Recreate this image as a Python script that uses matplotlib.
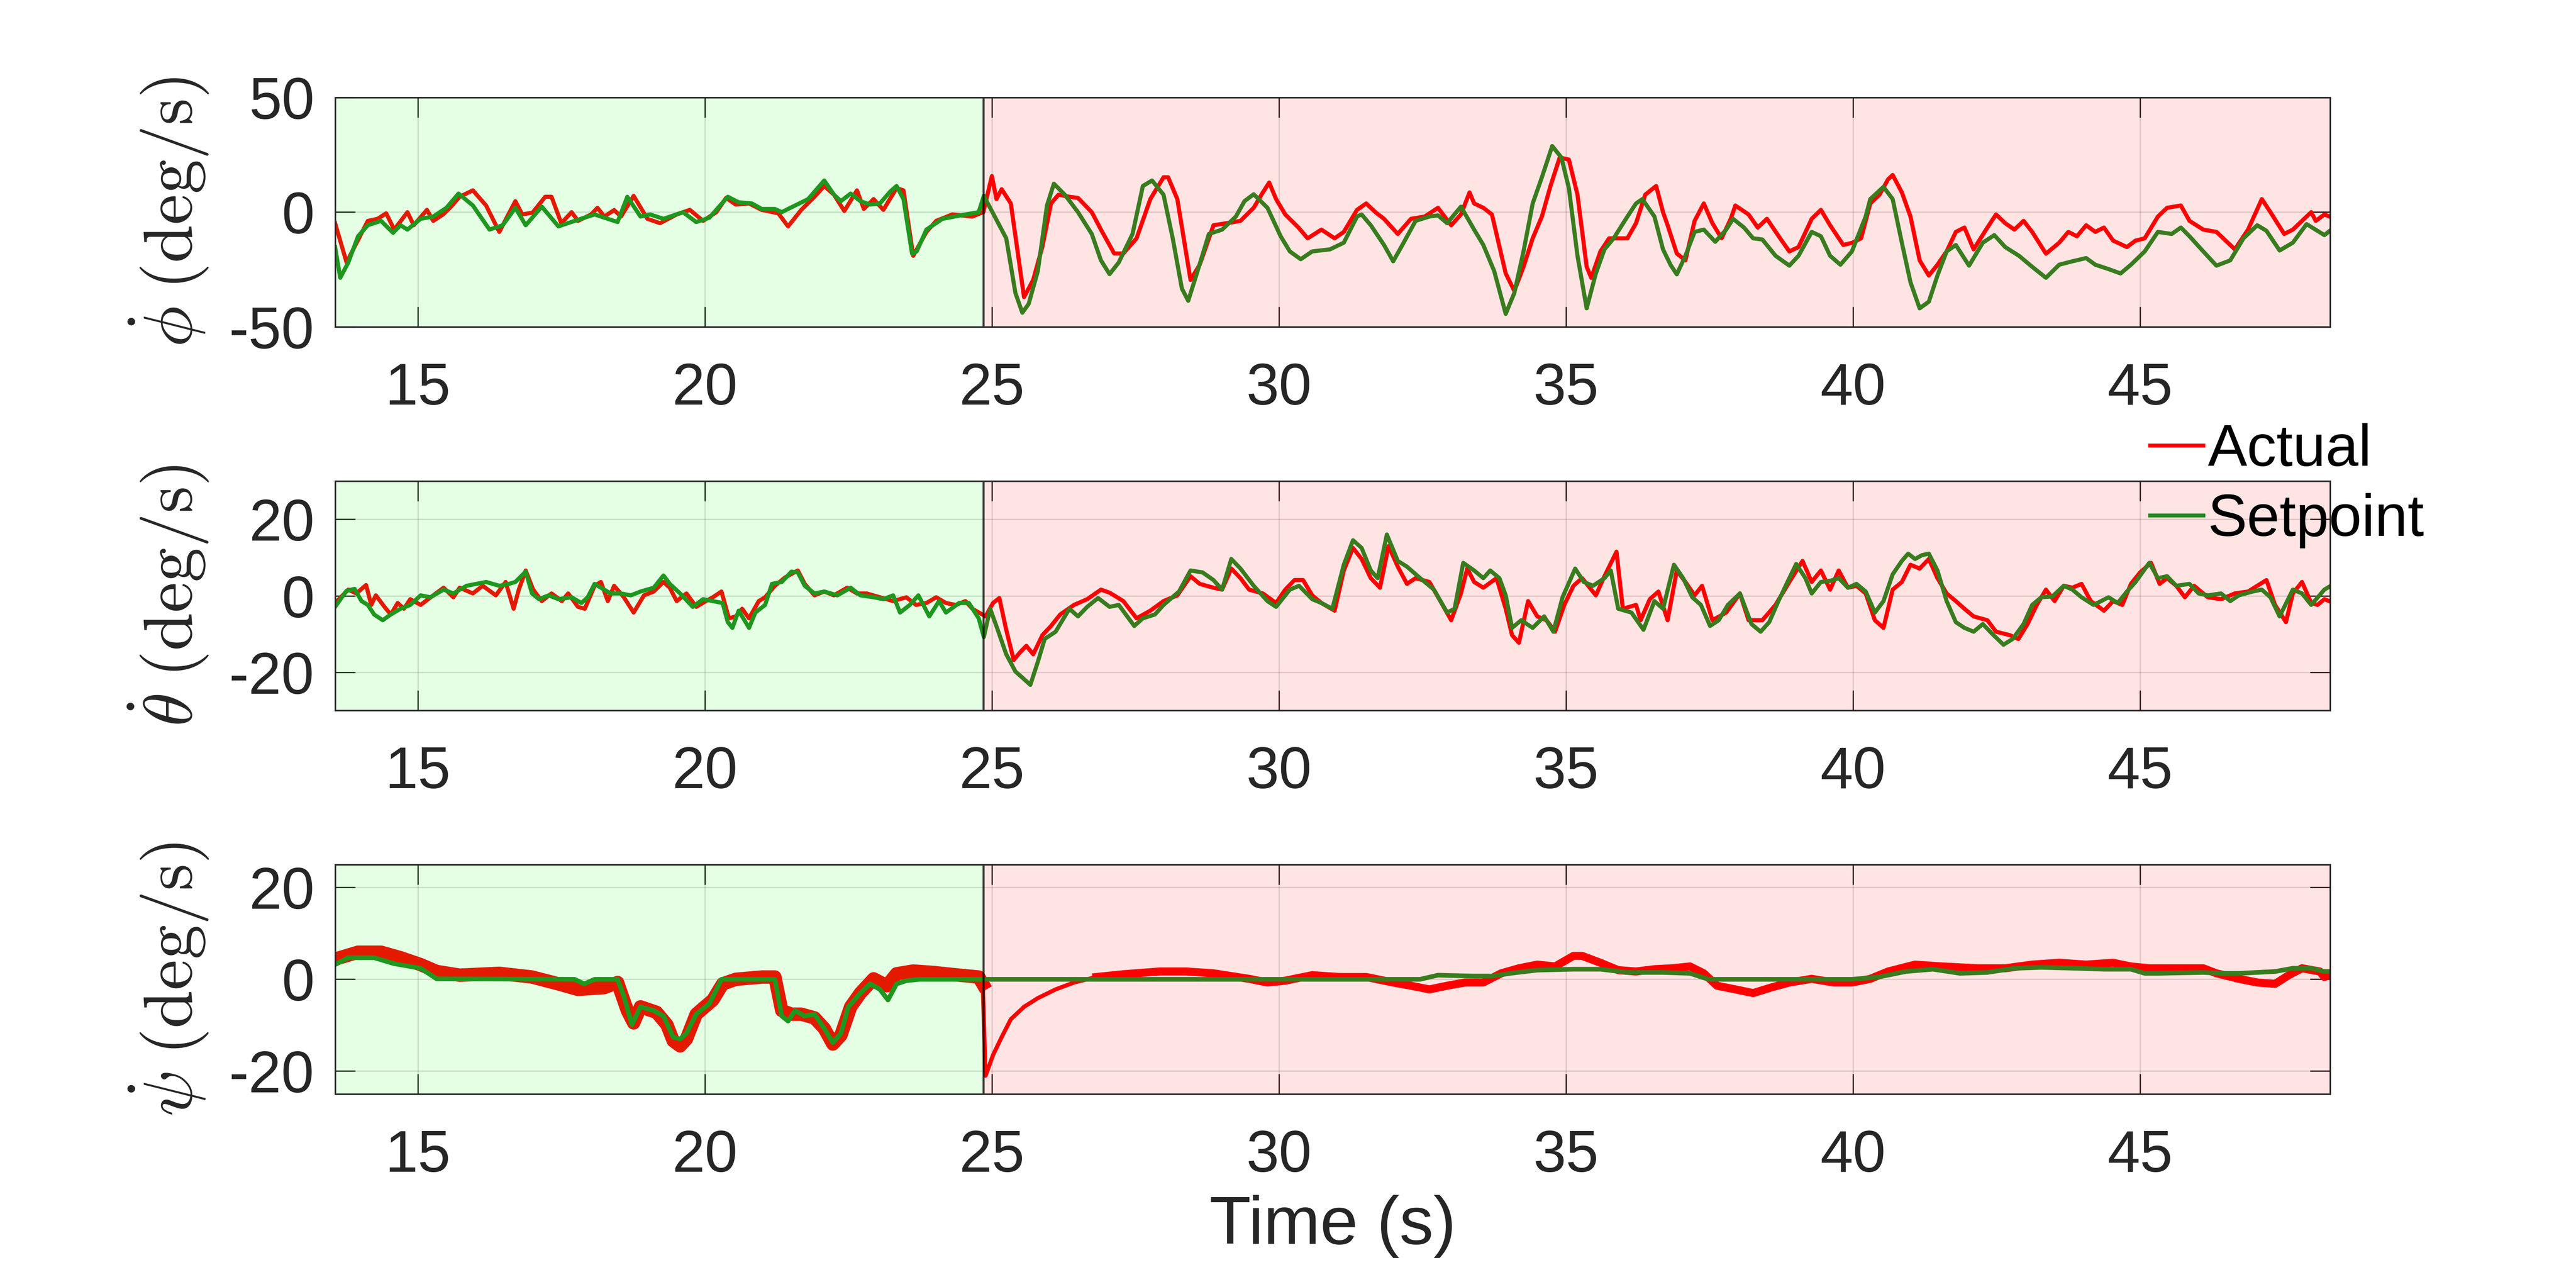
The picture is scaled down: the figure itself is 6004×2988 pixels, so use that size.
import numpy as np
import matplotlib
matplotlib.use("Agg")
import matplotlib.pyplot as plt
from matplotlib.lines import Line2D

plt.rcParams['font.family'] = ['Liberation Sans', 'DejaVu Sans']
plt.rcParams['mathtext.fontset'] = 'cm'
plt.rcParams['axes.unicode_minus'] = False

# time window and the moment the controller switched (green -> red zone)
x_lim = (13.56, 48.31)
t_switch = 24.855
x_ticks = [15, 20, 25, 30, 35, 40, 45]

# (time, value) pairs
roll_actual = [
    (13.56, -4.8), (13.76, -21.9), (14.13, -3.8), (14.3, -2.9), (14.45, -0.5), (14.59, -7.6),
    (14.82, 0), (14.93, -5.7), (15.16, 1), (15.27, -3.8), (15.44, -1.0), (15.56, 1.9),
    (15.73, 6.7), (15.96, 9.5), (16.19, 2.9), (16.42, -8.6), (16.7, 4.8), (16.82, -1),
    (17.0, -0.2), (17.22, 6.7), (17.33, 6.7), (17.5, -4.8), (17.68, 0), (17.79, -3.8),
    (18.02, -1), (18.13, 1.9), (18.25, -1.9), (18.42, 0.9), (18.54, -1.9), (18.76, 7.1),
    (19.0, -2.9), (19.22, -4.8), (19.51, -1), (19.74, 1), (19.97, -3.8), (20.2, 0),
    (20.37, 6.2), (20.54, 3.3), (20.77, 3.8), (20.99, 1), (21.28, -0.5), (21.45, -6.2),
    (21.68, 1), (21.91, 6.7), (22.08, 11.4), (22.25, 7.6), (22.43, 0.5), (22.65, 9.5),
    (22.77, 1.4), (22.94, 5.7), (23.11, 1), (23.34, 10.5), (23.46, 9.5), (23.63, -19),
    (23.86, -8.6), (24.03, -3.8), (24.31, -1), (24.66, -1.9), (24.85, 0), (25.0, 15.7),
    (25.08, 5.7), (25.17, 10), (25.33, 3.8), (25.56, -37), (25.72, -29.5), (25.88, -15),
    (26.03, 3.8), (26.16, 7.6), (26.35, 6.7), (26.5, 6.2), (26.74, 0), (26.9, -7.6),
    (27.13, -18), (27.29, -18), (27.52, -11.4), (27.76, 5.7), (27.99, 15.2), (28.07, 15.2),
    (28.23, 5.7), (28.46, -29.5), (28.62, -22.9), (28.86, -5.7), (29.09, -4.8), (29.33, -3.8),
    (29.56, 1.9), (29.72, 8.6), (29.83, 12.9), (29.95, 5.7), (30.11, -1), (30.34, -6.7),
    (30.5, -11.4), (30.74, -7.6), (30.97, -11.4), (31.13, -8.6), (31.36, 1), (31.52, 3.8),
    (31.68, 0), (31.83, -2.9), (32.07, -9.5), (32.3, -2.9), (32.54, -1.9), (32.77, 1.9),
    (33.0, -5.7), (33.17, -1), (33.32, 8.6), (33.4, 3.8), (33.56, 1.9), (33.71, -1),
    (33.95, -26.7), (34.1, -34.3), (34.26, -23.8), (34.42, -11.4), (34.58, -1.9), (34.73, 11.4),
    (34.89, 23.8), (35.05, 22.9), (35.2, 7.6), (35.36, -23.8), (35.44, -28.6), (35.6, -17.1),
    (35.75, -11.4), (36.07, -11.4), (36.22, -4.8), (36.38, 7.6), (36.57, 11.4), (36.69, 0),
    (36.77, -5.7), (36.93, -18), (37.08, -21), (37.24, -3.8), (37.4, 3.8), (37.55, -4.8),
    (37.71, -11.4), (37.87, -2.9), (37.95, 2.9), (38.18, -1), (38.34, -6.7), (38.5, -2.9),
    (38.73, -11.4), (38.89, -17.1), (39.05, -15.2), (39.28, -2.9), (39.44, 1), (39.6, -5.7),
    (39.83, -14.3), (39.99, -13.3), (40.14, -11.4), (40.3, 3.8), (40.46, 7.6), (40.61, 14.3),
    (40.69, 16.2), (40.85, 8.6), (41.0, -1.9), (41.16, -21), (41.32, -27.6), (41.47, -22.9),
    (41.63, -17.1), (41.79, -8.6), (41.94, -6.7), (42.1, -16.2), (42.34, -6.7), (42.49, -1),
    (42.65, -4.8), (42.81, -7.6), (42.97, -3.8), (43.12, -8.6), (43.36, -18.1), (43.59, -13.3),
    (43.75, -8.6), (43.9, -10.5), (44.06, -5.7), (44.22, -8.6), (44.37, -6.7), (44.53, -12.4),
    (44.77, -15.2), (44.92, -12.4), (45.08, -11.4), (45.31, -1.9), (45.47, 1.9), (45.71, 2.9),
    (45.86, -3.8), (46.1, -7.6), (46.33, -8.6), (46.65, -16.2), (46.88, -7.6), (47.12, 5.7),
    (47.27, 0), (47.51, -9.5), (47.66, -7.6), (47.82, -3.8), (47.98, 0), (48.06, -3.8),
    (48.21, -1), (48.31, -2),
]

roll_setpoint = [
    (13.56, -15.2), (13.65, -28.6), (13.79, -21.9), (13.96, -10.5), (14.13, -5.7), (14.36, -3.8),
    (14.57, -9), (14.7, -5.7), (14.82, -7.6), (15.05, -2.9), (15.27, -1.9), (15.5, 1.9),
    (15.71, 8.1), (15.96, 2.9), (16.25, -7.6), (16.48, -5.7), (16.7, 1.9), (16.88, -5.7),
    (17.16, 2.4), (17.45, -6.2), (17.79, -3.3), (18.08, -1), (18.31, -2.9), (18.48, -4.3),
    (18.65, 6.7), (18.88, -1.9), (19.05, -1), (19.28, -2.9), (19.62, 0), (19.85, -4.3),
    (20.08, -2.4), (20.4, 6.7), (20.59, 4.3), (20.82, 3.8), (20.99, 1.4), (21.22, 1.4),
    (21.34, 0), (21.45, 1.4), (21.8, 5.7), (22.08, 13.8), (22.25, 7.6), (22.37, 4.8),
    (22.54, 8.1), (22.71, 4.8), (22.88, 3.3), (23.05, 3.8), (23.23, 9), (23.34, 11.4),
    (23.46, 5.7), (23.61, -18.1), (23.69, -17.1), (23.86, -7.6), (24.14, -2.9), (24.54, -1),
    (24.77, 0), (24.86, 7.1), (25.09, -3.8), (25.25, -11.4), (25.41, -35.2), (25.53, -43.8),
    (25.64, -40), (25.8, -25.7), (25.96, 2.9), (26.08, 12.4), (26.27, 7.6), (26.5, 0),
    (26.74, -9.5), (26.9, -21), (27.05, -27), (27.21, -21.9), (27.45, -9.5), (27.63, 11.4),
    (27.79, 13.8), (27.99, 7.6), (28.15, -11.4), (28.31, -33.3), (28.42, -38.6), (28.57, -26.7),
    (28.78, -9.5), (29.01, -7.6), (29.25, -1.9), (29.4, 4.8), (29.56, 7.8), (29.8, 1.9),
    (30.03, -10.5), (30.19, -17.1), (30.38, -20.5), (30.58, -17.1), (30.89, -16.2), (31.13, -13.3),
    (31.36, -1.9), (31.44, -1.0), (31.6, -5.7), (31.83, -14.3), (31.99, -21.4), (32.15, -14.3),
    (32.38, -3.8), (32.62, -1.9), (32.77, -1.4), (32.93, -4.8), (33.17, 2.4), (33.4, -7.6),
    (33.56, -14.3), (33.75, -25.7), (33.95, -44.3), (34.1, -35.2), (34.26, -17.1), (34.42, 3.8),
    (34.58, 15.2), (34.76, 28.8), (34.92, 23.8), (35.05, 10.5), (35.2, -19), (35.36, -41.9),
    (35.52, -26.7), (35.67, -16.2), (35.83, -11.4), (36.07, -1.9), (36.22, 3.8), (36.33, 5.7),
    (36.54, -1.9), (36.69, -16.2), (36.82, -22.9), (36.93, -27.1), (37.08, -19), (37.24, -8.6),
    (37.4, -7.6), (37.6, -12.9), (37.79, -7.6), (37.91, -2.9), (38.1, -6.7), (38.26, -11.4),
    (38.42, -11.9), (38.65, -19), (38.89, -23.3), (39.05, -19), (39.28, -8.6), (39.44, -10.5),
    (39.6, -19), (39.78, -22.9), (39.98, -17.1), (40.22, -1.9), (40.3, 5.7), (40.53, 11),
    (40.69, 5.7), (40.85, -13.3), (41.0, -30.5), (41.16, -41.9), (41.32, -39), (41.47, -27.6),
    (41.63, -17.1), (41.79, -14.3), (42.02, -23.3), (42.26, -13.3), (42.46, -10), (42.65, -15.2),
    (42.89, -19), (43.12, -23.8), (43.36, -28.6), (43.59, -22.9), (43.82, -21.4), (44.06, -20),
    (44.22, -22.9), (44.45, -24.8), (44.66, -26.7), (44.84, -22.9), (45.08, -17.1), (45.31, -8.6),
    (45.55, -9.5), (45.71, -6.7), (45.86, -10.5), (46.1, -17.1), (46.33, -23.3), (46.57, -21),
    (46.8, -11.4), (47.04, -5.7), (47.2, -8.1), (47.43, -16.7), (47.66, -13.3), (47.9, -5.2),
    (48.21, -10), (48.31, -8),
]

pitch_actual = [
    (13.56, -1.9), (13.79, 1.6), (13.93, 0.6), (14.1, 2.8), (14.19, -2.4), (14.27, 0.1),
    (14.42, -2.9), (14.53, -4.9), (14.65, -1.9), (14.76, -3.4), (14.87, -0.9), (15.05, -2.4),
    (15.27, 0.1), (15.45, 2.1), (15.62, -0.4), (15.73, 2.1), (15.96, 0.6), (16.13, 2.6),
    (16.36, 0.1), (16.53, 3.6), (16.67, -3.4), (16.76, 1.6), (16.88, 6.6), (17.01, 1.6),
    (17.16, -1.4), (17.33, 0.6), (17.51, -1.4), (17.62, 0.6), (17.79, -2.9), (17.91, -3.4),
    (18.08, 2.6), (18.19, 3.6), (18.31, -1.4), (18.42, 2.6), (18.59, -0.4), (18.76, -4.4),
    (18.94, 0.1), (19.11, 1.1), (19.28, 3.6), (19.39, 2.1), (19.51, -1.4), (19.68, 0.6),
    (19.85, -2.9), (20.02, -1.4), (20.14, -0.4), (20.29, 1.1), (20.42, -5.9), (20.54, -5.4),
    (20.65, -3.4), (20.77, -5.9), (20.94, -1.4), (21.05, -0.4), (21.22, 2.6), (21.4, 4.8),
    (21.62, 6.6), (21.74, 3.1), (21.91, 0.1), (22.08, 1.1), (22.25, 0.1), (22.48, 2.1),
    (22.65, 0.6), (22.82, 0.6), (23.05, -0.4), (23.28, -1.4), (23.51, -0.4), (23.68, -2.4),
    (23.86, -1.9), (24.03, -0.4), (24.2, -1.9), (24.37, -2.4), (24.54, -1.4), (24.66, -3.4),
    (24.89, -5.4), (25.02, -1.9), (25.13, -0.6), (25.25, -8.9), (25.38, -16.8), (25.49, -14.8),
    (25.6, -13.1), (25.72, -15.3), (25.88, -10.3), (26.03, -7.9), (26.19, -4.9), (26.43, -2.4),
    (26.66, -0.9), (26.9, 1.6), (27.05, 0.8), (27.29, -1.4), (27.52, -5.9), (27.76, -3.9),
    (27.99, -1.4), (28.23, 0.1), (28.46, 5.1), (28.62, 3.1), (28.86, 2.1), (29.01, 1.6),
    (29.17, 7.1), (29.33, 4.6), (29.48, 1.6), (29.72, 0.6), (29.95, -1.9), (30.11, 1.6),
    (30.27, 4.1), (30.42, 4.1), (30.58, 0.1), (30.74, -1.9), (30.97, -3.9), (31.13, 6.6),
    (31.29, 12.5), (31.44, 9.6), (31.6, 4.6), (31.76, 2.1), (31.91, 13), (32.07, 7.6),
    (32.23, 3.1), (32.38, 4.6), (32.62, 3.6), (32.85, -2.4), (33.0, -6.4), (33.17, 0.6),
    (33.28, 7.1), (33.4, 3.6), (33.56, 2.1), (33.79, 4.6), (33.95, -3.4), (34.06, -10.3),
    (34.18, -12.3), (34.34, -1.4), (34.5, -5.4), (34.66, -6.4), (34.81, -9.4), (34.97, -2.4),
    (35.13, 2.6), (35.28, 4.6), (35.52, 0.1), (35.67, 5.1), (35.88, 11.5), (35.99, -3.4),
    (36.22, -2.4), (36.3, -6.4), (36.46, -0.9), (36.61, 1.1), (36.77, -6.4), (36.93, 6.6),
    (37.08, 3.6), (37.24, 0.1), (37.37, 2.6), (37.55, -6.4), (37.79, -4.4), (38.03, 0.6),
    (38.18, -6.4), (38.42, -6.4), (38.65, -2.4), (38.89, 3.6), (39.12, 9.1), (39.28, 3.6),
    (39.44, 6.6), (39.6, 1.6), (39.75, 6.6), (39.91, 2.1), (40.06, 2.6), (40.22, 0.6),
    (40.38, -6.4), (40.53, -8.4), (40.69, 1.6), (40.85, 3.6), (41.0, 8.1), (41.16, 7.1),
    (41.32, 9.6), (41.47, 4.6), (41.63, 0.6), (41.79, -1.4), (41.94, -3.4), (42.1, -5.4),
    (42.34, -6.4), (42.49, -9.4), (42.73, -10.3), (42.88, -11.3), (43.04, -7.4), (43.2, -2.4),
    (43.36, 1.6), (43.51, -1.4), (43.67, 2.6), (43.82, 2.1), (43.98, 3.1), (44.14, -1.4),
    (44.37, -3.9), (44.53, -1.4), (44.69, -2.4), (44.84, 3.1), (45.0, 6.1), (45.19, 8.6),
    (45.34, 3.1), (45.47, 4.6), (45.63, 2.6), (45.78, -0.4), (45.94, 2.6), (46.18, -0.4),
    (46.41, -0.9), (46.65, 0.6), (46.88, 1.1), (47.04, 2.6), (47.2, 4.1), (47.35, -2.4),
    (47.54, -6.9), (47.66, 0.6), (47.82, 3.6), (47.98, -1.9), (48.09, -2.4), (48.21, -0.9),
    (48.31, -1.5),
]

pitch_setpoint = [
    (13.56, -2.9), (13.76, 1.3), (13.9, 1.8), (14.02, -1.4), (14.13, -2.4), (14.24, -4.9),
    (14.39, -6.4), (14.53, -4.9), (14.7, -3.4), (14.87, -2.4), (15.05, 0.1), (15.22, -0.4),
    (15.45, 1.6), (15.62, 0.6), (15.85, 2.6), (16.02, 3.1), (16.19, 3.6), (16.42, 2.6),
    (16.59, 3.1), (16.7, 3.6), (16.88, 6.3), (16.99, 0.6), (17.11, -0.9), (17.28, 0.1),
    (17.45, -0.9), (17.68, -0.4), (17.85, -1.9), (17.96, -0.4), (18.08, 3.1), (18.19, 2.1),
    (18.36, 0.6), (18.54, 0.6), (18.71, 0.1), (18.88, 1.1), (19.11, 2.1), (19.28, 5.3),
    (19.39, 3.1), (19.57, 0.6), (19.79, -2.9), (19.97, -0.9), (20.14, -1.4), (20.31, -1.9),
    (20.4, -6.9), (20.48, -8.4), (20.59, -3.9), (20.77, -8.4), (20.88, -4.4), (21.05, -2.4),
    (21.17, 3.1), (21.34, 3.6), (21.51, 6.3), (21.62, 6.1), (21.74, 2.6), (21.91, 0.6),
    (22.08, 1.1), (22.31, 0.1), (22.54, 2.1), (22.71, 0.1), (22.94, -0.4), (23.11, -0.9),
    (23.28, 0.1), (23.4, -4.4), (23.57, -2.4), (23.72, 0.1), (23.91, -5.4), (24.08, -1.4),
    (24.2, -4.4), (24.43, -1.9), (24.6, -1.9), (24.77, -5.9), (24.86, -10.8), (24.97, -3.4),
    (25.09, -8.4), (25.25, -15.3), (25.41, -19.8), (25.56, -21.8), (25.67, -23.3), (25.8, -17.3),
    (25.92, -11.3), (26.11, -9.4), (26.35, -3.4), (26.5, -5.4), (26.66, -2.9), (26.85, -0.6),
    (27.05, -2.9), (27.21, -2.4), (27.48, -7.9), (27.63, -5.9), (27.84, -4.9), (27.99, -2.4),
    (28.26, 1.1), (28.46, 6.6), (28.67, 6.1), (28.86, 4.1), (29.01, 1.6), (29.17, 9.6),
    (29.33, 7.1), (29.56, 2.6), (29.8, -1.4), (29.95, -2.9), (30.19, 1.6), (30.35, 2.6),
    (30.58, -0.9), (30.74, -1.9), (30.93, -3.4), (31.13, 8.1), (31.29, 14.5), (31.44, 12.5),
    (31.6, 6.6), (31.72, 4.6), (31.88, 16), (32.07, 9.1), (32.23, 7.6), (32.46, 4.6),
    (32.7, 1.6), (32.93, -4.4), (33.06, -3.4), (33.21, 8.6), (33.4, 6.6), (33.56, 4.6),
    (33.68, 6.6), (33.84, 4.6), (33.95, 0.1), (34.06, -8.4), (34.22, -6.4), (34.42, -8.4),
    (34.62, -5.4), (34.78, -9.4), (34.94, -0.4), (35.16, 7.1), (35.31, 3.6), (35.47, 2.6),
    (35.67, 4.6), (35.78, 6.6), (35.91, -3.4), (36.14, -4.4), (36.35, -8.9), (36.54, -1.4),
    (36.69, -3.4), (36.88, 8.1), (37.04, 4.6), (37.2, -0.4), (37.35, -2.4), (37.51, -7.9),
    (37.66, -6.4), (37.82, -2.4), (38.03, 0.6), (38.23, -7.4), (38.39, -9.4), (38.54, -6.9),
    (38.7, -1.4), (38.89, 4.6), (39.01, 8.3), (39.17, 4.6), (39.28, 0.6), (39.44, 3.6),
    (39.6, 3.9), (39.75, 4.6), (39.91, 2.1), (40.06, 3.1), (40.22, 1.1), (40.38, -4.4),
    (40.53, -1.4), (40.69, 5.6), (40.85, 9.1), (40.96, 11), (41.08, 9.6), (41.2, 10.6),
    (41.32, 11), (41.47, 6.6), (41.63, -1.4), (41.79, -6.9), (41.94, -8.4), (42.1, -9.4),
    (42.26, -7.4), (42.42, -9.9), (42.62, -12.8), (42.78, -11.3), (42.97, -7.4), (43.12, -2.4),
    (43.28, -0.4), (43.47, -0.2), (43.67, 2.6), (43.82, 1.6), (43.98, -0.4), (44.19, -2.4),
    (44.45, -0.4), (44.61, -1.9), (44.77, 1.1), (44.92, 3.6), (45.16, 8.6), (45.31, 4.6),
    (45.47, 5.1), (45.63, 2.6), (45.86, 3.1), (46.02, 0.6), (46.18, 0.1), (46.41, 0.6),
    (46.57, -1.4), (46.72, 0.1), (46.96, 1.1), (47.12, 1.6), (47.27, -0.4), (47.43, -5.4),
    (47.66, 1.6), (47.82, 0.6), (47.98, -2.4), (48.21, 1.6), (48.31, 2.5),
]

yaw_actual = [
    (13.56, 4.4), (13.96, 5.9), (14.36, 5.9), (14.7, 4.7), (15.05, 3.2), (15.33, 1.7),
    (15.73, 0.9), (16.42, 1.3), (16.99, 0.5), (17.45, -1), (17.79, -2.2), (18.25, -1.8),
    (18.48, -0.7), (18.65, -6.8), (18.76, -9.5), (18.88, -6), (19.16, -7.2), (19.34, -9.9),
    (19.45, -13.4), (19.57, -14.5), (19.68, -13), (19.85, -7.6), (20.14, -4.5), (20.31, -1),
    (20.54, 0), (21.0, 0.5), (21.22, 0.5), (21.34, -6.8), (21.51, -7.6), (21.68, -7.6),
    (21.91, -8.4), (22.08, -10.7), (22.23, -14.1), (22.37, -12.2), (22.54, -6), (22.71, -3),
    (22.94, 0.1), (23.17, -1.4), (23.34, 1.2), (23.63, 1.8), (23.97, 1.5), (24.43, 0.9),
    (24.77, 0.5), (24.84, -1), (24.89, -21), (25.02, -16.5), (25.17, -12.6), (25.33, -8.7),
    (25.56, -6), (25.8, -4.1), (26.11, -2.2), (26.43, -0.7), (26.82, 0.5), (27.29, 1.1),
    (27.92, 1.7), (28.39, 1.7), (28.86, 1.3), (29.48, 0.1), (29.8, -0.7), (30.11, -0.3),
    (30.58, 0.9), (31.05, 0.5), (31.52, 0.5), (31.99, -0.7), (32.3, -1.4), (32.62, -2.2),
    (32.93, -1.4), (33.24, -0.7), (33.56, -0.7), (33.87, 1.3), (34.18, 2.4), (34.5, 3.2),
    (34.81, 2.8), (35.13, 5.1), (35.28, 5.1), (35.6, 3.6), (35.91, 2), (36.22, 1.7),
    (36.54, 2.2), (36.85, 2.4), (37.16, 2.8), (37.4, 1.3), (37.63, -1.4), (37.95, -2.2),
    (38.26, -3), (38.57, -1.8), (38.89, -0.7), (39.28, 0.1), (39.67, -0.7), (39.98, -0.7),
    (40.3, 0.1), (40.61, 1.7), (41.08, 3.2), (41.55, 2.8), (42.18, 2.4), (42.65, 2.4),
    (43.12, 3.2), (43.59, 3.6), (44.06, 3.2), (44.53, 3.6), (44.84, 2.8), (45.16, 2.4),
    (45.63, 2.4), (46.1, 2.4), (46.33, 1.3), (46.72, 0.1), (47.04, -0.7), (47.35, -1),
    (47.59, 0.9), (47.82, 2.4), (48.13, 1.7), (48.21, 0.5), (48.31, 1),
]

yaw_setpoint = [
    (13.56, 3.2), (13.79, 4.7), (14.24, 4.7), (14.59, 3.4), (15.05, 2.4), (15.33, 0.1),
    (17.73, 0), (17.9, -1), (18.08, 0), (18.48, 0), (18.59, -3.7), (18.73, -9.9),
    (18.88, -6), (19.11, -6.8), (19.28, -8), (19.45, -12.6), (19.57, -13), (19.68, -11.8),
    (19.85, -7.6), (20.08, -5.3), (20.29, 0), (21.22, 0), (21.34, -8), (21.45, -9.1),
    (21.57, -6.8), (21.74, -8), (21.91, -7.6), (22.08, -10.7), (22.23, -13.8), (22.37, -11.8),
    (22.5, -6), (22.71, -3), (22.88, -1), (23.05, -2.2), (23.19, -4.5), (23.34, -1),
    (23.51, -0.3), (23.74, 0), (32.46, 0), (32.77, 0.9), (33.4, 0.7), (33.71, 0.7),
    (34.03, 1.3), (34.5, 2), (35.13, 2.2), (35.6, 2.2), (36.07, 1.5), (36.69, 1.5),
    (37.16, 1.3), (37.48, 0), (39.98, 0), (40.45, 0.5), (40.92, 1.7), (41.39, 2.2),
    (41.86, 1.3), (42.34, 1.5), (42.81, 2.4), (43.28, 2.6), (43.9, 2.4), (44.37, 2.2),
    (44.84, 2.2), (45.08, 1.3), (45.31, 1.3), (46.1, 1.5), (46.41, 1.3), (46.72, 1.3),
    (47.35, 1.7), (47.66, 2.4), (47.98, 2.4), (48.21, 1.7), (48.31, 1.7),
]

panels = [
    (roll_actual, roll_setpoint, (-50, 50), [-50, 0, 50], r'$\dot{\phi}\;\mathrm{(deg/s)}$'),
    (pitch_actual, pitch_setpoint, (-30, 30), [-20, 0, 20], r'$\dot{\theta}\;\mathrm{(deg/s)}$'),
    (yaw_actual, yaw_setpoint, (-25, 25), [-20, 0, 20], r'$\dot{\psi}\;\mathrm{(deg/s)}$'),
]

RED = '#ff0000'
GREEN = '#228b22'
TXT = '#262626'
FS = 33

fig = plt.figure(figsize=(6004 / 300, 2988 / 300), dpi=300)

left, width, height = 0.13008, 0.77448, 0.17905
bottoms = [0.74498, 0.44578, 0.14659]

axes = []
for i, (act, sp, ylim, yticks, ylab) in enumerate(panels):
    ax = fig.add_axes([left, bottoms[i], width, height])
    ta, ya = np.array(act).T
    ts, ys = np.array(sp).T

    ax.plot(ta, ya, color=RED, lw=2.3, zorder=2)
    if i == 2:
        # the yaw measurement is a noisy band, thicker before the switch
        pre = ta <= 24.84
        post = ta >= 26.8
        ax.plot(ta[pre], ya[pre], color=RED, lw=7.5, zorder=2)
        ax.plot(ta[post], ya[post], color=RED, lw=4.5, zorder=2)
        ax.plot(ts, ys, color=GREEN, lw=2.6, zorder=2.1)
    else:
        ax.plot(ts, ys, color=GREEN, lw=2.3, zorder=2.1)

    # tinted zones drawn on top, like the original
    ax.axvspan(x_lim[0], t_switch, facecolor=(0, 1, 0, 0.106),
               edgecolor=(0, 0, 0, 0.5), lw=1.1, zorder=3)
    ax.axvspan(t_switch, x_lim[1], facecolor=(1, 0, 0, 0.106),
               edgecolor=(0, 0, 0, 0.5), lw=1.1, zorder=3)

    ax.set_xlim(*x_lim)
    ax.set_ylim(*ylim)
    ax.set_xticks(x_ticks)
    ax.set_yticks(yticks)
    ax.grid(True, color=TXT, alpha=0.15, lw=0.75)
    ax.tick_params(axis='both', direction='in', length=11.2, width=0.75,
                   colors=TXT, labelsize=FS, top=True, right=True)
    ax.tick_params(axis='x', pad=19.5)
    ax.tick_params(axis='y', pad=11.5)
    for s in ax.spines.values():
        s.set_color(TXT)
        s.set_linewidth(0.75)
        s.set_zorder(4)
    ax.set_ylabel(ylab, fontsize=38.5, color=TXT)
    ax.yaxis.set_label_coords(-0.0626, 0.5)
    axes.append(ax)

axes[2].set_xlabel('Time (s)', fontsize=38, color=TXT, labelpad=6)

handles = [Line2D([], [], color=RED, lw=2.2), Line2D([], [], color=GREEN, lw=2.2)]
fig.legend(handles, ['Actual', 'Setpoint'], loc='upper left',
           bbox_to_anchor=(0.8346, 0.670), bbox_transform=fig.transFigure,
           frameon=False, borderpad=0, borderaxespad=0, handlelength=0.9,
           handletextpad=0.08, labelspacing=0.25, fontsize=FS)

fig.savefig('out.png', dpi=300)
